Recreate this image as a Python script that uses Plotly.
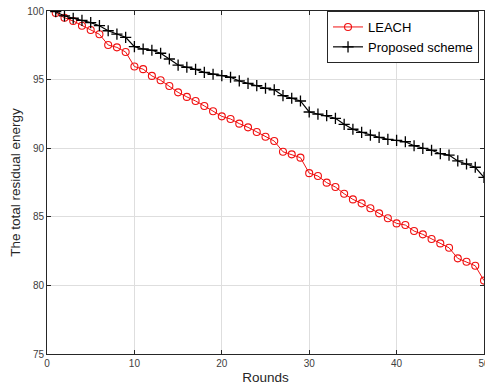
import plotly.graph_objects as go

rounds = list(range(1, 51))

leach = [99.85, 99.51, 99.27, 98.93, 98.62, 98.30, 97.52, 97.35, 97.01, 95.95,
         95.76, 95.27, 94.95, 94.53, 94.07, 93.74, 93.44, 93.08, 92.69, 92.32,
         92.13, 91.79, 91.52, 91.18, 90.84, 90.52, 89.74, 89.55, 89.31, 88.18,
         87.97, 87.49, 87.17, 86.68, 86.27, 85.98, 85.62, 85.25, 84.89, 84.52,
         84.40, 83.96, 83.72, 83.38, 83.06, 82.74, 81.97, 81.72, 81.43, 80.35]

proposed = [99.95, 99.64, 99.47, 99.32, 99.15, 98.93, 98.56, 98.32, 98.08, 97.40,
            97.23, 97.14, 96.92, 96.50, 96.06, 95.90, 95.75, 95.53, 95.39, 95.29,
            95.17, 94.90, 94.73, 94.56, 94.37, 94.26, 93.83, 93.64, 93.44, 92.64,
            92.49, 92.37, 92.18, 91.74, 91.38, 91.16, 90.96, 90.79, 90.65, 90.57,
            90.47, 90.18, 89.99, 89.85, 89.60, 89.50, 89.07, 88.85, 88.61, 87.88]

x_ticks = [0, 10, 20, 30, 40, 50]
y_ticks = [75, 80, 85, 90, 95, 100]

FONT = "Liberation Sans, Arial, sans-serif"

fig = go.Figure()
fig.add_trace(go.Scatter(
    x=rounds, y=leach, name="LEACH", mode="lines+markers",
    line=dict(color="#f01010", width=1),
    marker=dict(symbol="circle-open", size=7, color="#f01010",
                line=dict(width=1.1, color="#f01010")),
))
fig.add_trace(go.Scatter(
    x=rounds, y=proposed, name="Proposed scheme", mode="lines+markers",
    line=dict(color="black", width=1.2),
    marker=dict(symbol="cross-thin-open", size=8, color="black",
                line=dict(width=1.3, color="black")),
))

axis_common = dict(
    showline=True, linecolor="#262626", linewidth=1, mirror="ticks",
    ticks="inside", ticklen=4, tickcolor="#262626", tickwidth=1,
    showgrid=True, gridcolor="#dedede", gridwidth=1, zeroline=False,
    tickfont=dict(family=FONT, size=10, color="#404040"),
    ticklabeloverflow="allow", automargin=False,
)

fig.update_xaxes(range=[0, 50], tickvals=x_ticks,
                 title=dict(text="Rounds", font=dict(family=FONT, size=13.5, color="#262626"), standoff=4),
                 **axis_common)
fig.update_yaxes(range=[75, 100], tickvals=y_ticks,
                 title=dict(text="The total residual energy", font=dict(family=FONT, size=13.5, color="#262626"), standoff=3),
                 **axis_common)

fig.update_layout(
    width=485, height=389,
    margin=dict(l=47, r=1, t=11, b=35),
    paper_bgcolor="white", plot_bgcolor="white",
    font=dict(family=FONT, size=12, color="#262626"),
    legend=dict(x=0.9886, y=1.0, xanchor="right", yanchor="top",
                bgcolor="white", bordercolor="#262626", borderwidth=1,
                font=dict(family=FONT, size=13, color="#000000"),
                tracegroupgap=0),
    showlegend=True,
)

fig.write_html("out.html", config={"displayModeBar": False},
               post_script="document.body.style.margin='0';document.body.style.padding='0';")
